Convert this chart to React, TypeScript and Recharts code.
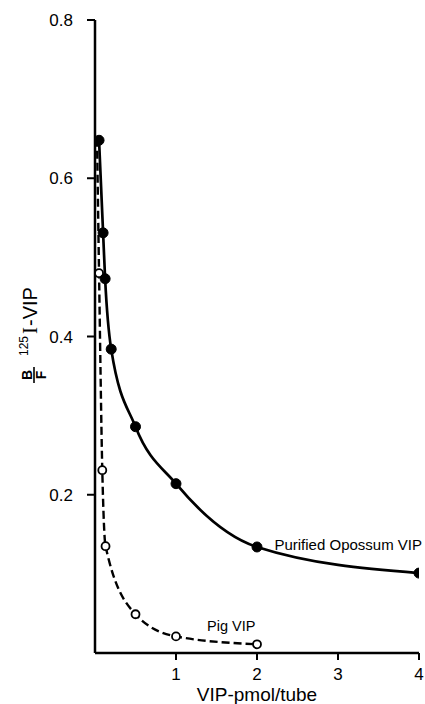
import React from 'react';
import { LineChart, Line, XAxis, YAxis, Customized } from 'recharts';

// Inhibition curves (B/F vs pmol VIP per tube)
const opossumDose = [0.05, 0.1, 0.125, 0.2, 0.5, 1, 2, 4];
const opossumBF = [0.648, 0.531, 0.473, 0.384, 0.286, 0.214, 0.134, 0.101];

const pigDose = [0.025, 0.05, 0.09, 0.13, 0.5, 1, 2];
const pigBF = [0.65, 0.48, 0.231, 0.135, 0.049, 0.021, 0.011];

const xTicks = [1, 2, 3, 4];
const yTicks = [0.2, 0.4, 0.6, 0.8];

const opossumData = opossumDose.map((x, i) => ({ x, y: opossumBF[i] }));
const pigData = pigDose.map((x, i) => ({ x, y: pigBF[i] }));

const font = '"Liberation Sans", Arial, Helvetica, sans-serif';

const PigDot = (props: any) => {
  const { cx, cy, index } = props;
  if (index === 0) return <g key={`p${index}`} />;
  return (
    <circle key={`p${index}`} cx={cx} cy={cy} r={4} fill="#fff" stroke="#000" strokeWidth={1.8} />
  );
};

// y axis title: B over F, superscript 125, I-VIP (rotated)
const YTitle = () => (
  <g transform="rotate(-90)" fill="#000" fontFamily={font}>
    <text x={-375} y={32} textAnchor="middle" fontSize={14} fontWeight="bold">B</text>
    <line x1={-383} x2={-367} y1={34} y2={34} stroke="#000" strokeWidth={1.6} />
    <text x={-375} y={46} textAnchor="middle" fontSize={14} fontWeight="bold">F</text>
    <text x={-356} y={28} fontSize={12}>125</text>
    <text x={-334} y={37} fontSize={20}>
      <tspan fontFamily='"Liberation Serif", "Times New Roman", serif' fontSize={21}>I</tspan>
      <tspan dx={1}>-VIP</tspan>
    </text>
  </g>
);

const Notes = () => (
  <g fill="#000" fontFamily={font}>
    <text x={422} y={550} textAnchor="end" fontSize={15}>Purified Opossum VIP</text>
    <text x={207} y={631} fontSize={14.5}>Pig VIP</text>
    <text x={257} y={701} textAnchor="middle" fontSize={19}>VIP-pmol/tube</text>
  </g>
);

export default function App() {
  return (
    <div style={{ position: 'absolute', left: 0, top: 0, width: 425, height: 704, background: '#fff', fontFamily: font }}>
      <LineChart width={425} height={704} margin={{ top: 20, right: 6, bottom: 0, left: 0 }}>
        <XAxis
          type="number"
          dataKey="x"
          domain={[0, 4]}
          ticks={xTicks}
          height={51}
          axisLine={{ stroke: '#000', strokeWidth: 2.5 }}
          tickLine={{ stroke: '#000', strokeWidth: 2 }}
          tickSize={7}
          tickMargin={8}
          tick={{ fill: '#000', fontSize: 17 }}
          allowDataOverflow
        />
        <YAxis
          type="number"
          dataKey="y"
          domain={[0, 0.8]}
          ticks={yTicks}
          width={95}
          axisLine={{ stroke: '#000', strokeWidth: 2.5 }}
          tickLine={{ stroke: '#000', strokeWidth: 2 }}
          tickSize={8}
          tickMargin={14}
          tick={{ fill: '#000', fontSize: 17 }}
          tickFormatter={(v: number) => v.toFixed(1)}
          allowDataOverflow
        />
        <Line
          data={pigData}
          dataKey="y"
          type="monotone"
          stroke="#000"
          strokeWidth={2.4}
          strokeDasharray="8 4"
          dot={PigDot}
          isAnimationActive={false}
        />
        <Line
          data={opossumData}
          dataKey="y"
          type="monotone"
          stroke="#000"
          strokeWidth={2.7}
          dot={{ r: 5, fill: '#000', stroke: '#000', strokeWidth: 1 }}
          isAnimationActive={false}
        />
        <Customized component={<YTitle />} />
        <Customized component={<Notes />} />
      </LineChart>
    </div>
  );
}
